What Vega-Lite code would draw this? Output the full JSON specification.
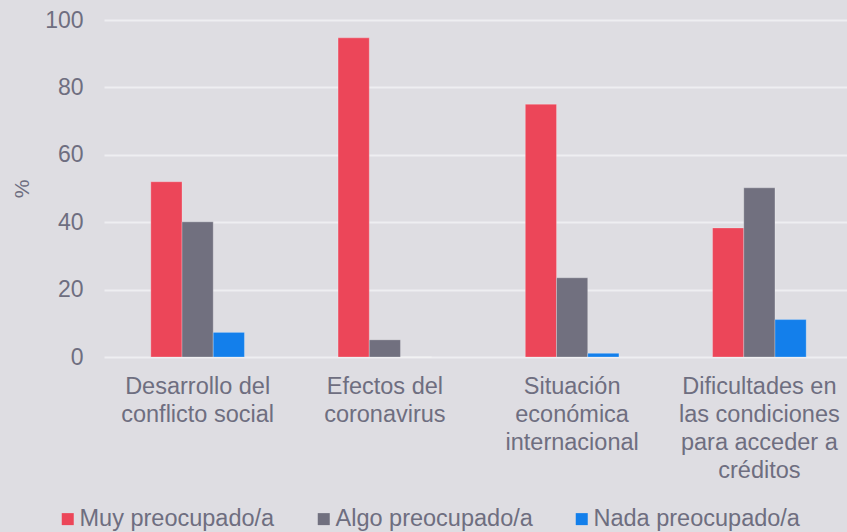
{
  "$schema": "https://vega.github.io/schema/vega-lite/v6.json",
  "autosize": {"type": "none"},
  "width": 749,
  "height": 337,
  "padding": {"left": 104, "top": 20, "right": 0, "bottom": 175},
  "background": "#DEDDE2",
  "config": {
    "view": {"stroke": null, "fill": "#DEDDE2"},
    "font": "Liberation Sans",
    "axis": {"labelColor": "#6E6E80", "titleColor": "#6E6E80", "labelFont": "Liberation Sans", "titleFont": "Liberation Sans"},
    "legend": {"labelFont": "Liberation Sans"}
  },
  "data": {
    "values": [
      {"cat": "Desarrollo del|conflicto social", "serie": "Muy preocupado/a", "v": 52.0},
      {"cat": "Desarrollo del|conflicto social", "serie": "Algo preocupado/a", "v": 40.1},
      {"cat": "Desarrollo del|conflicto social", "serie": "Nada preocupado/a", "v": 7.3},
      {"cat": "Efectos del|coronavirus", "serie": "Muy preocupado/a", "v": 94.7},
      {"cat": "Efectos del|coronavirus", "serie": "Algo preocupado/a", "v": 5.1},
      {"cat": "Efectos del|coronavirus", "serie": "Nada preocupado/a", "v": 0},
      {"cat": "Situación|económica|internacional", "serie": "Muy preocupado/a", "v": 75.0},
      {"cat": "Situación|económica|internacional", "serie": "Algo preocupado/a", "v": 23.5},
      {"cat": "Situación|económica|internacional", "serie": "Nada preocupado/a", "v": 1.1},
      {"cat": "Dificultades en|las condiciones|para acceder a|créditos", "serie": "Muy preocupado/a", "v": 38.3},
      {"cat": "Dificultades en|las condiciones|para acceder a|créditos", "serie": "Algo preocupado/a", "v": 50.2},
      {"cat": "Dificultades en|las condiciones|para acceder a|créditos", "serie": "Nada preocupado/a", "v": 11.1}
    ]
  },
  "mark": {"type": "bar", "stroke": "#ffffff", "strokeOpacity": 0.25, "strokeWidth": 1},
  "encoding": {
    "x": {
      "field": "cat", "type": "nominal", "sort": null,
      "scale": {"paddingInner": 0.5, "paddingOuter": 0.25},
      "axis": {
        "title": null, "labelAngle": 0, "labelExpr": "split(datum.label, '|')",
        "labelFontSize": 23.5, "labelLineHeight": 28, "labelPadding": 17,
        "ticks": false, "domain": false, "labelLimit": 300
      }
    },
    "y": {
      "field": "v", "type": "quantitative",
      "scale": {"domain": [0, 100]},
      "axis": {
        "title": "%", "titleFontSize": 21, "titleFontWeight": "normal", "titlePadding": 12,
        "values": [0, 20, 40, 60, 80, 100], "labelFontSize": 23, "labelPadding": 21,
        "ticks": false, "domain": false, "grid": true, "gridColor": "#EEEEF1", "gridWidth": 2
      }
    },
    "xOffset": {"field": "serie", "type": "nominal", "sort": ["Muy preocupado/a", "Algo preocupado/a", "Nada preocupado/a"]},
    "color": {
      "field": "serie", "type": "nominal",
      "sort": ["Muy preocupado/a", "Algo preocupado/a", "Nada preocupado/a"],
      "scale": {"domain": ["Muy preocupado/a", "Algo preocupado/a", "Nada preocupado/a"], "range": ["#EC4659", "#71707F", "#137FEB"]},
      "legend": {
        "title": null, "orient": "none", "legendX": -48, "legendY": 487,
        "direction": "horizontal", "columns": 3, "columnPadding": 37,
        "symbolType": "square", "symbolSize": 144, "symbolStrokeWidth": 0, "symbolOffset": 0,
        "labelFontSize": 23.5, "labelColor": "#6E6E80", "labelOffset": 0, "labelLimit": 300
      }
    }
  }
}
